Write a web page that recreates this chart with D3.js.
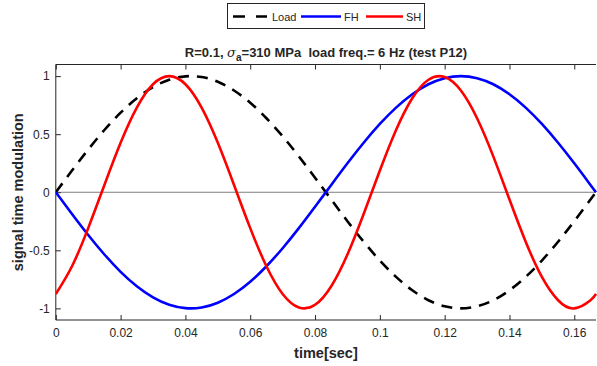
<!DOCTYPE html>
<html>
<head>
<meta charset="utf-8">
<script src="https://cdn.jsdelivr.net/npm/d3@7"></script>
<style>
  body { margin: 0; background: #fff; }
  svg text { font-family: "Liberation Sans", Arial, Helvetica, sans-serif; }
</style>
</head>
<body>
<svg id="chart" width="597" height="366"></svg>
<script>
// sample times (s)
const time = [0, 0.005, 0.01, 0.015, 0.02, 0.025, 0.03, 0.035, 0.04, 0.045, 0.05, 0.055,
    0.06, 0.065, 0.07, 0.075, 0.08, 0.085, 0.09, 0.095, 0.1, 0.105, 0.11, 0.115,
    0.12, 0.125, 0.13, 0.135, 0.14, 0.145, 0.15, 0.155, 0.16, 0.165, 0.1667];

const loadValues = [0, 0.187, 0.368, 0.536, 0.685, 0.809, 0.905, 0.969, 0.998, 0.992, 0.951, 0.876,
    0.771, 0.637, 0.482, 0.309, 0.125, -0.063, -0.249, -0.426, -0.588, -0.729, -0.844, -0.930,
    -0.982, -1.0, -0.982, -0.930, -0.844, -0.729, -0.588, -0.426, -0.249, -0.063, 0];

const fhValues = [0, -0.187, -0.368, -0.536, -0.685, -0.809, -0.905, -0.969, -0.998, -0.992, -0.951, -0.876,
    -0.771, -0.637, -0.482, -0.309, -0.125, 0.063, 0.249, 0.426, 0.588, 0.729, 0.844, 0.930,
    0.982, 1.0, 0.982, 0.930, 0.844, 0.729, 0.588, 0.426, 0.249, 0.063, 0];

const shValues = [-0.876, -0.637, -0.309, 0.063, 0.426, 0.729, 0.930, 1.0, 0.930, 0.729, 0.426, 0.063,
    -0.309, -0.637, -0.876, -0.992, -0.969, -0.809, -0.536, -0.187, 0.187, 0.536, 0.809, 0.969,
    0.992, 0.876, 0.637, 0.309, -0.063, -0.426, -0.729, -0.930, -1.0, -0.930, -0.876];

const xTicks = [0, 0.02, 0.04, 0.06, 0.08, 0.1, 0.12, 0.14, 0.16];
const yTicks = [-1, -0.5, 0, 0.5, 1];

const seriesNames = ['Load', 'FH', 'SH'];
const seriesColors = ['#000000', '#0000ff', '#ff0000'];

const svg = d3.select('#chart');

// plot box
const plotLeft = 55.8, plotRight = 596, plotTop = 64.5, plotBottom = 320;
const axisColor = '#262626';

const xScale = d3.scaleLinear().domain([0, 0.1667]).range([plotLeft, plotRight]);
const yScale = d3.scaleLinear().domain([-1.1, 1.1]).range([plotBottom, plotTop]);

// zero line
svg.append('line')
    .attr('x1', plotLeft).attr('x2', plotRight)
    .attr('y1', yScale(0)).attr('y2', yScale(0))
    .attr('stroke', '#7f7f7f')
    .attr('stroke-width', 1);

// axes (ticks pointing inward like matlab)
const xAxis = d3.axisBottom(xScale).tickValues(xTicks).tickSize(-5).tickPadding(8.5)
    .tickFormat(d => d === 0 ? '0' : String(d));
const xAxisTop = d3.axisTop(xScale).tickValues(xTicks).tickSize(-5).tickFormat('');
const yAxis = d3.axisLeft(yScale).tickValues(yTicks).tickSize(-5).tickPadding(6)
    .tickFormat(d => String(d));

function styleAxis(g) {
    g.select('.domain').attr('stroke', axisColor).attr('stroke-width', 1);
    g.selectAll('.tick line').attr('stroke', axisColor);
    g.selectAll('.tick text')
        .attr('fill', axisColor)
        .style('font-size', '12px')
        .style('font-family', '"Liberation Sans", Arial, sans-serif');
}

svg.append('g')
    .attr('transform', `translate(0, ${plotBottom})`)
    .call(xAxis)
    .call(g => g.select('.domain').attr('d', `M${plotLeft},0H${plotRight}`))
    .call(styleAxis);

svg.append('g')
    .attr('transform', `translate(0, ${plotTop})`)
    .call(xAxisTop)
    .call(g => g.select('.domain').attr('d', `M${plotLeft},0H${plotRight}`))
    .call(styleAxis);

svg.append('g')
    .attr('transform', `translate(${plotLeft}, 0)`)
    .call(yAxis)
    .call(g => g.select('.domain').attr('d', `M0,${plotTop}V${plotBottom}`))
    .call(styleAxis);

// lines
const line = d3.line()
    .x((d, i) => xScale(time[i]))
    .y(d => yScale(d))
    .curve(d3.curveNatural);

svg.append('clipPath').attr('id', 'plotClip')
    .append('rect')
    .attr('x', plotLeft).attr('y', plotTop)
    .attr('width', plotRight - plotLeft + 2).attr('height', plotBottom - plotTop);

const lines = svg.append('g').attr('clip-path', 'url(#plotClip)');

lines.append('path')
    .attr('d', line(loadValues))
    .attr('fill', 'none')
    .attr('stroke', seriesColors[0])
    .attr('stroke-width', 2.6)
    .attr('stroke-dasharray', '11,8');

lines.append('path')
    .attr('d', line(fhValues))
    .attr('fill', 'none')
    .attr('stroke', seriesColors[1])
    .attr('stroke-width', 2.6);

lines.append('path')
    .attr('d', line(shValues))
    .attr('fill', 'none')
    .attr('stroke', seriesColors[2])
    .attr('stroke-width', 2.6);

// title
const title = svg.append('text')
    .attr('x', (plotLeft + plotRight) / 2)
    .attr('y', 57)
    .attr('text-anchor', 'middle')
    .attr('fill', axisColor)
    .style('font-size', '13px')
    .style('font-weight', 'bold');
title.append('tspan').text('R=0.1, ');
title.append('tspan').text('σ').style('font-style', 'italic').style('font-weight', 'normal')
    .style('font-family', '"DejaVu Serif", "Liberation Serif", serif');
title.append('tspan').text('a').attr('dy', 4).style('font-size', '10px');
title.append('tspan').text('=310 MPa\u00a0 load freq.= 6 Hz (test P12)').attr('dy', -4);

// axis labels
svg.append('text')
    .attr('x', (plotLeft + plotRight) / 2)
    .attr('y', 358)
    .attr('text-anchor', 'middle')
    .attr('fill', axisColor)
    .style('font-size', '14.5px')
    .style('font-weight', 'bold')
    .text('time[sec]');

svg.append('text')
    .attr('transform', `translate(23, ${yScale(0)}) rotate(-90)`)
    .attr('text-anchor', 'middle')
    .attr('fill', axisColor)
    .style('font-size', '14.5px')
    .style('font-weight', 'bold')
    .text('signal time modulation');

// legend
const legend = svg.append('g');
legend.append('rect')
    .attr('x', 227.5).attr('y', 3.5)
    .attr('width', 197).attr('height', 25)
    .attr('fill', '#fff')
    .attr('stroke', axisColor)
    .attr('stroke-width', 1);

const legendItems = [
    {lineX: 233, lineLen: 34, textX: 272},
    {lineX: 301, lineLen: 40, textX: 344},
    {lineX: 366, lineLen: 37, textX: 406}
];

seriesNames.forEach((name, i) => {
    legend.append('line')
        .attr('x1', legendItems[i].lineX).attr('x2', legendItems[i].lineX + legendItems[i].lineLen)
        .attr('y1', 16.5).attr('y2', 16.5)
        .attr('stroke', seriesColors[i])
        .attr('stroke-width', 2.6)
        .attr('stroke-dasharray', i === 0 ? '12,11' : null);
    legend.append('text')
        .attr('x', legendItems[i].textX)
        .attr('y', 21)
        .attr('fill', axisColor)
        .style('font-size', '11px')
        .text(name);
});
</script>
</body>
</html>
